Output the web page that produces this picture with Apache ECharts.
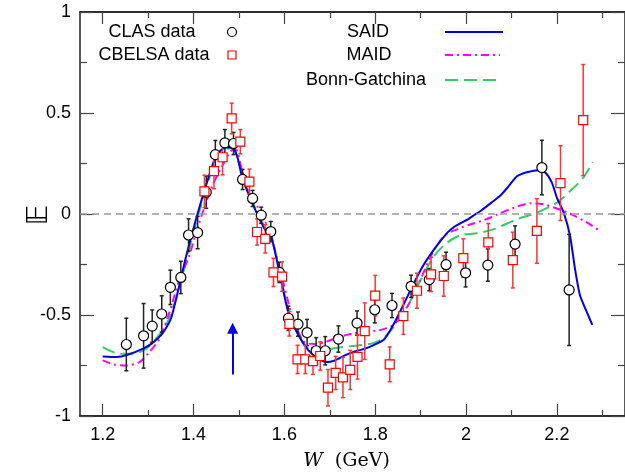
<!DOCTYPE html>
<html>
<head>
<meta charset="utf-8">
<script src="https://cdn.jsdelivr.net/npm/echarts@6/dist/echarts.min.js"></script>
<style>
  html, body { margin: 0; padding: 0; background: #fff; }
  #main { width: 625px; height: 476px; }
</style>
</head>
<body>
<div id="main"></div>
<script>
// CLAS data (circles)
var clasW = [1.252, 1.290, 1.309, 1.330, 1.349, 1.372, 1.389, 1.409, 1.428, 1.448, 1.469, 1.488, 1.508, 1.530, 1.549, 1.570, 1.589,
  1.609, 1.630, 1.650, 1.670, 1.690, 1.719, 1.760, 1.799, 1.837, 1.879, 1.919, 1.956, 1.999, 2.048, 2.108, 2.167, 2.227];
var clasE = [-0.646, -0.603, -0.555, -0.495, -0.363, -0.314, -0.104, -0.092, 0.108, 0.294, 0.352, 0.349, 0.171, 0.077, -0.006, -0.087, -0.289,
  -0.516, -0.545, -0.587, -0.677, -0.677, -0.619, -0.540, -0.474, -0.453, -0.358, -0.325, -0.251, -0.291, -0.253, -0.149, 0.230, -0.376];
var clasErr = [0.13, 0.16, 0.08, 0.09, 0.085, 0.08, 0.08, 0.08, 0.08, 0.07, 0.066, 0.055, 0.05, 0.04, 0.04, 0.05, 0.05,
  0.06, 0.06, 0.065, 0.065, 0.07, 0.065, 0.06, 0.065, 0.06, 0.055, 0.055, 0.062, 0.07, 0.08, 0.09, 0.135, 0.275];

// CBELSA data (squares)
var cbW = [1.424, 1.445, 1.464, 1.484, 1.503, 1.523, 1.540, 1.558, 1.576, 1.595, 1.611, 1.629, 1.646, 1.663, 1.679, 1.696, 1.713,
  1.729, 1.745, 1.761, 1.777, 1.800, 1.832, 1.862, 1.892, 1.923, 1.951, 1.994, 2.049, 2.103, 2.156, 2.208, 2.258];
var cbE = [0.112, 0.212, 0.281, 0.473, 0.358, 0.160, -0.089, -0.123, -0.289, -0.310, -0.544, -0.720, -0.720, -0.728, -0.703, -0.860, -0.787,
  -0.809, -0.772, -0.707, -0.580, -0.404, -0.744, -0.506, -0.380, -0.299, -0.307, -0.218, -0.140, -0.228, -0.084, 0.153, 0.465];
var cbErr = [0.08, 0.087, 0.087, 0.076, 0.06, 0.062, 0.065, 0.07, 0.07, 0.073, 0.06, 0.07, 0.07, 0.066, 0.07, 0.09, 0.082,
  0.1, 0.097, 0.11, 0.14, 0.1, 0.086, 0.09, 0.087, 0.085, 0.1, 0.095, 0.093, 0.138, 0.16, 0.185, 0.275];

// model curves
var saidW = [1.20, 1.23, 1.255, 1.29, 1.31, 1.332, 1.35, 1.368, 1.383, 1.405, 1.427, 1.449, 1.465, 1.478, 1.489, 1.498, 1.507, 1.514,
  1.536, 1.558, 1.57, 1.59, 1.609, 1.631, 1.653, 1.675, 1.693, 1.711, 1.733, 1.755, 1.777, 1.80, 1.82, 1.843, 1.872, 1.901, 1.93,
  1.959, 1.975, 1.988, 2.005, 2.018, 2.035, 2.055, 2.075, 2.091, 2.112, 2.134, 2.16, 2.175, 2.189, 2.20, 2.215, 2.229, 2.24, 2.251, 2.266, 2.278];
var saidE = [-0.705, -0.708, -0.697, -0.665, -0.638, -0.59, -0.52, -0.36, -0.215, -0.03, 0.138, 0.286, 0.325, 0.33, 0.322, 0.27, 0.179, 0.138,
  0.02, -0.08, -0.10, -0.30, -0.49, -0.60, -0.675, -0.716, -0.733, -0.725, -0.70, -0.68, -0.667, -0.645, -0.62, -0.536, -0.404, -0.273, -0.174,
  -0.092, -0.062, -0.045, -0.025, -0.005, 0.02, 0.055, 0.09, 0.13, 0.187, 0.207, 0.217, 0.204, 0.155, 0.081, 0.007, -0.108, -0.273, -0.404, -0.486, -0.549];

var maidW = [1.20, 1.225, 1.252, 1.281, 1.303, 1.325, 1.347, 1.368, 1.39, 1.41, 1.441, 1.463, 1.482, 1.493, 1.507, 1.522, 1.544, 1.565,
  1.59, 1.616, 1.63, 1.646, 1.668, 1.69, 1.719, 1.748, 1.777, 1.806, 1.825, 1.843, 1.872, 1.894, 1.923, 1.952, 1.981, 2.01, 2.04,
  2.069, 2.105, 2.142, 2.171, 2.20, 2.229, 2.266, 2.295];
var maidE = [-0.725, -0.745, -0.75, -0.733, -0.683, -0.618, -0.486, -0.33, -0.21, -0.06, 0.138, 0.237, 0.311, 0.319, 0.212, 0.122, 0.023, -0.075,
  -0.27, -0.50, -0.58, -0.637, -0.643, -0.634, -0.61, -0.593, -0.582, -0.577, -0.565, -0.544, -0.454, -0.355, -0.207, -0.108, -0.075, -0.051, -0.03,
  -0.002, 0.031, 0.053, 0.048, 0.027, 0.002, -0.042, -0.084];

var bgW = [1.20, 1.237, 1.266, 1.296, 1.32, 1.339, 1.36, 1.383, 1.405, 1.427, 1.449, 1.468, 1.485, 1.50, 1.514, 1.536, 1.558, 1.57,
  1.59, 1.609, 1.631, 1.66, 1.682, 1.704, 1.726, 1.748, 1.777, 1.80, 1.82, 1.843, 1.872, 1.901, 1.93, 1.959, 1.988, 2.025, 2.061,
  2.112, 2.156, 2.20, 2.229, 2.258, 2.279];
var bgE = [-0.659, -0.692, -0.692, -0.667, -0.61, -0.552, -0.43, -0.24, -0.05, 0.12, 0.27, 0.32, 0.325, 0.25, 0.15, 0.03, -0.07, -0.10,
  -0.29, -0.48, -0.60, -0.683, -0.692, -0.667, -0.659, -0.654, -0.647, -0.636, -0.61, -0.552, -0.454, -0.322, -0.207, -0.141, -0.105, -0.095, -0.075,
  -0.026, 0.007, 0.056, 0.113, 0.179, 0.258];

// eta threshold arrow
var arrowW = 1.486;
var arrowE = [-0.795, -0.565];

var majorX = [1.2, 1.4, 1.6, 1.8, 2, 2.2];
var minorX = [1.3, 1.5, 1.7, 1.9, 2.1, 2.3];

function pairs(xs, ys) {
  return xs.map(function (x, i) { return [x, ys[i]]; });
}
function triples(xs, ys, es) {
  return xs.map(function (x, i) { return [x, ys[i], es[i]]; });
}

function errorBar(color) {
  return function (params, api) {
    var x = api.value(0), y = api.value(1), e = api.value(2);
    var top = api.coord([x, y + e]);
    var bot = api.coord([x, y - e]);
    var st = { stroke: color, lineWidth: 1.5 };
    return {
      type: 'group',
      children: [
        { type: 'line', shape: { x1: top[0], y1: top[1], x2: bot[0], y2: bot[1] }, style: st },
        { type: 'line', shape: { x1: top[0] - 2, y1: top[1], x2: top[0] + 2, y2: top[1] }, style: st },
        { type: 'line', shape: { x1: bot[0] - 2, y1: bot[1], x2: bot[0] + 2, y2: bot[1] }, style: st }
      ]
    };
  };
}

var axisCol = '#222';
var font = 'Liberation Sans';

function xAx(pos, vals, len, labels) {
  return {
    type: 'value', position: pos, min: 1.15, max: 2.35,
    axisLine: { show: true, onZero: false, lineStyle: { color: axisCol, width: 1.5 } },
    axisTick: { show: true, inside: true, length: len, customValues: vals, lineStyle: { color: '#444', width: 1.2 } },
    axisLabel: { show: labels, customValues: vals, margin: 10, color: '#000', fontFamily: font, fontSize: 18 },
    splitLine: { show: false }
  };
}
function yAx(pos, labels) {
  return {
    type: 'value', position: pos, min: -1, max: 1, interval: 0.5,
    axisLine: { show: true, onZero: false, lineStyle: { color: axisCol, width: 1.5 } },
    axisTick: { show: true, inside: true, length: 14, lineStyle: { color: '#444', width: 1.2 } },
    minorTick: { show: true, splitNumber: 2, length: 7, lineStyle: { color: '#444', width: 1.2 } },
    axisLabel: { show: labels, margin: 9, color: '#000', fontFamily: font, fontSize: 18 },
    splitLine: { show: false }
  };
}

var xAxes = [xAx('bottom', majorX, 12, true), xAx('bottom', minorX, 6, false), xAx('top', majorX, 12, false), xAx('top', minorX, 6, false)];
xAxes[0].name = '{i|W}  (GeV)';
xAxes[0].nameLocation = 'middle';
xAxes[0].nameGap = 36;
xAxes[0].nameTextStyle = {
  fontFamily: 'DejaVu Serif', fontSize: 19, color: '#000', padding: [0, 12, 0, 0],
  rich: { i: { fontFamily: 'DejaVu Serif', fontStyle: 'italic', fontSize: 19, color: '#000' } }
};
var yAxes = [yAx('left', true), yAx('right', false)];

var myChart = echarts.init(document.getElementById('main'), null, { renderer: 'canvas' });

var legendFont = '18px "Liberation Sans"';
var option = {
  animation: false,
  grid: { left: 80, right: -4, top: 12, bottom: 59, containLabel: false },
  xAxis: xAxes,
  yAxis: yAxes,
  graphic: [
    // y axis title (double-struck E), rotated
    { type: 'text', x: 40, y: 215, rotation: Math.PI / 2,
      style: { text: '\uD835\uDD3C', font: '28px "DejaVu Sans"', fill: '#000', align: 'center', verticalAlign: 'middle' } },
    { type: 'text', x: 152, y: 32, style: { text: 'CLAS data', font: legendFont, fill: '#000', align: 'center', verticalAlign: 'middle' } },
    { type: 'text', x: 154, y: 55, style: { text: 'CBELSA data', font: legendFont, fill: '#000', align: 'center', verticalAlign: 'middle' } },
    { type: 'circle', shape: { cx: 232, cy: 32, r: 4.5 }, style: { fill: '#fff', stroke: '#000', lineWidth: 1.2 } },
    { type: 'rect', shape: { x: 228, y: 51, width: 8, height: 8 }, style: { fill: '#fff', stroke: '#ff0000', lineWidth: 1.2 } },
    { type: 'text', x: 368, y: 32, style: { text: 'SAID', font: legendFont, fill: '#000', align: 'center', verticalAlign: 'middle' } },
    { type: 'text', x: 369, y: 55, style: { text: 'MAID', font: legendFont, fill: '#000', align: 'center', verticalAlign: 'middle' } },
    { type: 'text', x: 366, y: 80, style: { text: 'Bonn-Gatchina', font: legendFont, fill: '#000', align: 'center', verticalAlign: 'middle' } },
    { type: 'line', shape: { x1: 445, y1: 32, x2: 503, y2: 32 }, style: { stroke: '#0000ee', lineWidth: 2 } },
    { type: 'line', shape: { x1: 445, y1: 55, x2: 500, y2: 55 }, style: { stroke: '#ff00ff', lineWidth: 2, lineDash: [8, 4, 2, 4] } },
    { type: 'line', shape: { x1: 445, y1: 80, x2: 500, y2: 80 }, style: { stroke: '#33cc66', lineWidth: 2, lineDash: [13, 6] } }
  ],
  series: [
    {
      name: 'Bonn-Gatchina', type: 'line', data: pairs(bgW, bgE), smooth: 0.3, symbol: 'none', z: 2,
      lineStyle: { color: '#33cc66', width: 2, type: [13, 6] },
      markLine: {
        silent: true, symbol: 'none', label: { show: false },
        lineStyle: { color: '#999', width: 1.5, type: [7, 5] },
        data: [{ yAxis: 0 }]
      }
    },
    {
      name: 'MAID', type: 'line', data: pairs(maidW, maidE), smooth: 0.3, symbol: 'none', z: 2,
      lineStyle: { color: '#ff00ff', width: 2, type: [8, 4, 2, 4] }
    },
    {
      name: 'SAID', type: 'line', data: pairs(saidW, saidE), smooth: 0.2, symbol: 'none', z: 3,
      lineStyle: { color: '#0000ee', width: 2 }
    },
    {
      name: 'arrow', type: 'lines', coordinateSystem: 'cartesian2d', z: 3,
      symbol: ['none', 'triangle'], symbolSize: 11,
      lineStyle: { color: '#0000ee', width: 2, opacity: 1 },
      data: [{ coords: [[arrowW, arrowE[0]], [arrowW, arrowE[1]]] }]
    },
    {
      name: 'CLAS err', type: 'custom', renderItem: errorBar('#222'), data: triples(clasW, clasE, clasErr), z: 4
    },
    {
      name: 'CBELSA err', type: 'custom', renderItem: errorBar('#ff3333'), data: triples(cbW, cbE, cbErr), z: 4
    },
    {
      name: 'CLAS data', type: 'scatter', data: pairs(clasW, clasE), symbol: 'circle', symbolSize: 10, z: 5,
      itemStyle: { color: '#fff', borderColor: '#000', borderWidth: 1.2, opacity: 1 }
    },
    {
      name: 'CBELSA data', type: 'scatter', data: pairs(cbW, cbE), symbol: 'rect', symbolSize: 9, z: 5,
      itemStyle: { color: '#fff', borderColor: '#ff0000', borderWidth: 1.2, opacity: 1 }
    }
  ]
};

myChart.setOption(option);
</script>
</body>
</html>
